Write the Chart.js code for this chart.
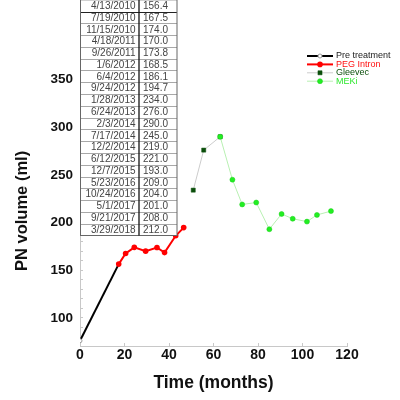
<!DOCTYPE html>
<html>
<head>
<meta charset="utf-8">
<script src="https://cdn.jsdelivr.net/npm/chart.js@4.4.0/dist/chart.umd.min.js"></script>
<style>
    html, body { margin: 0; padding: 0; background: #fff; }
    #box { width: 400px; height: 400px; }
</style>
</head>
<body>
<div id="box"><canvas id="pnChart" width="400" height="400"></canvas></div>
<script>
// valores (meses desde o inicio, volume em ml)
const preMonths = [0, 17.4];
const preVolumes = [76, 156.4];

const pegMonths = [17.4, 20.5, 24.4, 29.5, 34.6, 38, 43, 46.6];
const pegVolumes = [156.4, 167.5, 174.0, 170.0, 173.8, 168.5, 186.1, 194.7];

const gleevecMonths = [50.9, 55.6, 63];
const gleevecVolumes = [234.0, 276.0, 290.0];

const mekiMonths = [63, 68.5, 72.9, 79.2, 85.1, 90.6, 95.6, 102, 106.5, 112.8];
const mekiVolumes = [290.0, 245.0, 219.0, 221.0, 193.0, 209.0, 204.0, 201.0, 208.0, 212.0];

const seriesNames = ['Pre treatment', 'PEG Intron', 'Gleevec', 'MEKi'];
const legendTextColors = ['#222222', '#ff1010', '#0b4f0b', '#2ee82e'];

const tableDates = ['4/13/2010', '7/19/2010', '11/15/2010', '4/18/2011', '9/26/2011', '1/6/2012',
    '6/4/2012', '9/24/2012', '1/28/2013', '6/24/2013', '2/3/2014', '7/17/2014', '12/2/2014',
    '6/12/2015', '12/7/2015', '5/23/2016', '10/24/2016', '5/1/2017', '9/21/2017', '3/29/2018'];
const tableVolumes = ['156.4', '167.5', '174.0', '170.0', '173.8', '168.5', '186.1', '194.7', '234.0',
    '276.0', '290.0', '245.0', '219.0', '221.0', '193.0', '209.0', '204.0', '201.0', '208.0', '212.0'];

const xTickLabels = [0, 20, 40, 60, 80, 100, 120];
const yTickLabels = [100, 150, 200, 250, 300, 350];

const fonte = 'Liberation Sans, Arial, Helvetica, sans-serif';

function montarPontos(meses, volumes) {
    return meses.map((m, i) => ({ x: m, y: volumes[i] }));
}

const tabelaPlugin = {
    id: 'tabela',
    afterDraw(chart) {
        const ctx = chart.ctx;
        const left = 80.5, right = 177, meio = 139;
        const topo = -0.2, alturaLinha = 11.78;
        const fundo = topo + alturaLinha * tableDates.length;

        ctx.save();
        ctx.fillStyle = '#fff';
        ctx.fillRect(left, topo, right - left, fundo - topo);

        ctx.lineWidth = 1;
        for (let i = 1; i < tableDates.length; i++) {
            const y = Math.round(topo + alturaLinha * i) + 0.5;
            ctx.strokeStyle = i === 1 ? '#222' : '#a8a8a8';
            ctx.beginPath();
            ctx.moveTo(left, y);
            ctx.lineTo(right, y);
            ctx.stroke();
        }
        ctx.strokeStyle = '#666';
        ctx.strokeRect(left, topo, right - left, Math.round(fundo) + 0.5 - topo);
        ctx.strokeStyle = '#111';
        ctx.lineWidth = 1.3;
        ctx.beginPath();
        ctx.moveTo(meio, topo);
        ctx.lineTo(meio, fundo);
        ctx.stroke();

        ctx.fillStyle = '#444';
        ctx.font = '10px ' + fonte;
        ctx.textBaseline = 'middle';
        for (let i = 0; i < tableDates.length; i++) {
            const y = topo + alturaLinha * (i + 0.5) + 0.5;
            ctx.textAlign = 'right';
            ctx.fillText(tableDates[i], 135.5, y);
            ctx.textAlign = 'left';
            ctx.fillText(tableVolumes[i], 143, y);
        }
        ctx.restore();
    }
};

const legendaPlugin = {
    id: 'legenda',
    afterDraw(chart) {
        const ctx = chart.ctx;
        ctx.save();
        ctx.font = '9px ' + fonte;
        ctx.textBaseline = 'middle';
        ctx.textAlign = 'left';
        chart.data.datasets.forEach((ds, i) => {
            const y = 56 + i * 8.4;
            ctx.strokeStyle = ds.borderColor;
            ctx.lineWidth = ds.borderWidth;
            ctx.beginPath();
            ctx.moveTo(307, y);
            ctx.lineTo(333, y);
            ctx.stroke();

            const raio = Array.isArray(ds.pointRadius) ? ds.pointRadius[0] : ds.pointRadius;
            ctx.fillStyle = ds.pointBackgroundColor;
            ctx.strokeStyle = ds.pointBorderColor;
            ctx.lineWidth = ds.pointBorderWidth;
            Chart.helpers.drawPoint(ctx, {
                pointStyle: ds.pointStyle,
                radius: raio,
                rotation: 0,
                borderWidth: ds.pointBorderWidth
            }, 320, y);

            ctx.fillStyle = legendTextColors[i];
            ctx.fillText(ds.label, 336, y);
        });
        ctx.restore();
    }
};

const ctx = document.getElementById('pnChart').getContext('2d');

new Chart(ctx, {
    type: 'scatter',
    data: {
        datasets: [
            {
                label: seriesNames[0],
                data: montarPontos(preMonths, preVolumes),
                showLine: true,
                borderColor: '#000000',
                borderWidth: 2,
                pointStyle: 'circle',
                pointRadius: [2, 0],
                pointBackgroundColor: '#ffffff',
                pointBorderColor: '#9a9a9a',
                pointBorderWidth: 1,
                order: 4
            },
            {
                label: seriesNames[1],
                data: montarPontos(pegMonths, pegVolumes),
                showLine: true,
                borderColor: '#ff0000',
                borderWidth: 2,
                pointStyle: 'circle',
                pointRadius: 2.8,
                pointBackgroundColor: '#ff0000',
                pointBorderColor: '#ff0000',
                pointBorderWidth: 0,
                order: 3
            },
            {
                label: seriesNames[2],
                data: montarPontos(gleevecMonths, gleevecVolumes),
                showLine: true,
                borderColor: '#cccccc',
                borderWidth: 1,
                pointStyle: 'rect',
                pointRadius: 2.9,
                pointBackgroundColor: '#0b4f0b',
                pointBorderColor: '#0b4f0b',
                pointBorderWidth: 0.5,
                order: 2
            },
            {
                label: seriesNames[3],
                data: montarPontos(mekiMonths, mekiVolumes),
                showLine: true,
                borderColor: '#b8f0b2',
                borderWidth: 1,
                pointStyle: 'circle',
                pointRadius: 2.5,
                pointBackgroundColor: '#22ee22',
                pointBorderColor: '#19d019',
                pointBorderWidth: 0.5,
                order: 1
            }
        ]
    },
    options: {
        responsive: false,
        animation: false,
        layout: {
            padding: { left: 0, right: 53, top: 30, bottom: 0 }
        },
        elements: { line: { tension: 0 } },
        scales: {
            x: {
                type: 'linear',
                min: 0,
                max: 120,
                afterFit: function(scale) { scale.height = 54; },
                border: { color: '#c8c8c8' },
                // marcas voltadas para dentro, como no original
                grid: { drawOnChartArea: false, tickLength: -3, color: '#c8c8c8' },
                afterBuildTicks: function(scale) {
                    scale.ticks = xTickLabels.map(v => ({ value: v }));
                },
                ticks: {
                    padding: 4,
                    color: '#111',
                    maxRotation: 0,
                    font: { family: fonte, size: 14, weight: 'bold' }
                },
                title: {
                    display: true,
                    text: 'Time (months)',
                    color: '#111',
                    padding: { top: 0, bottom: 6.5 },
                    font: { family: fonte, size: 17.5, weight: 'bold' }
                }
            },
            y: {
                min: 70.5,
                max: 402,
                afterFit: function(scale) { scale.width = 80; },
                border: { color: '#c8c8c8' },
                grid: { drawOnChartArea: false, tickLength: -3, color: '#c8c8c8' },
                ticks: {
                    stepSize: 10,
                    autoSkip: false,
                    padding: 10,
                    color: '#111',
                    font: { family: fonte, size: 13.5, weight: 'bold' },
                    callback: function(valor) {
                        return yTickLabels.includes(valor) ? valor : '';
                    }
                },
                title: {
                    display: true,
                    text: 'PN volume (ml)' + ' '.repeat(10),
                    color: '#111',
                    padding: { top: 12.5, bottom: 0 },
                    font: { family: fonte, size: 16.5, weight: 'bold' }
                }
            }
        },
        plugins: {
            legend: { display: false },
            tooltip: { enabled: false }
        }
    },
    plugins: [tabelaPlugin, legendaPlugin]
});
</script>
</body>
</html>
